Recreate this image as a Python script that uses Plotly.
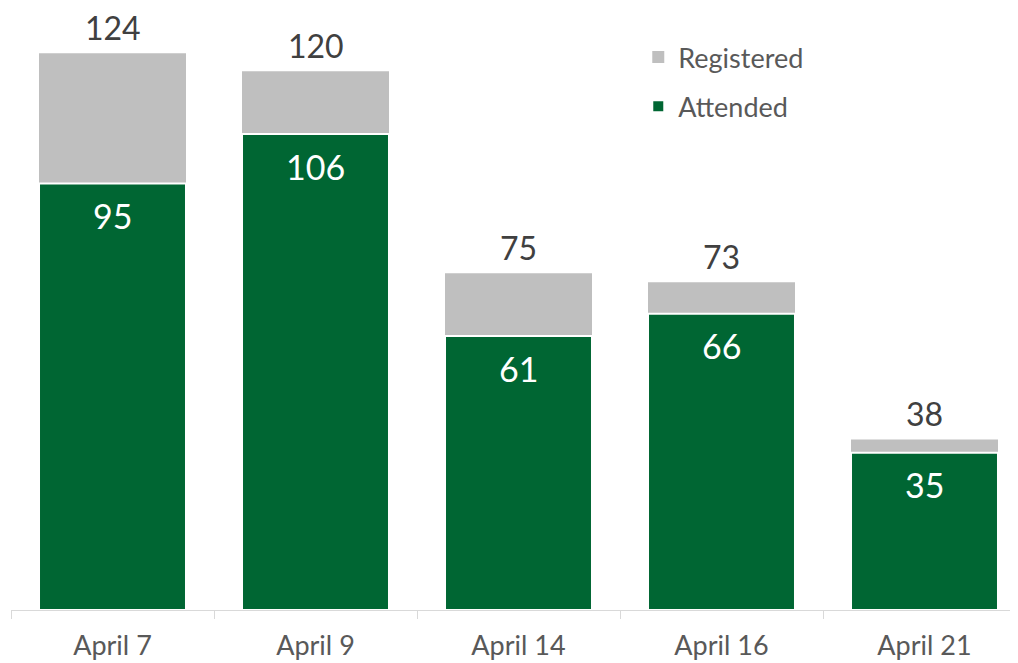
import plotly.graph_objects as go

dates = ["April 7", "April 9", "April 14", "April 16", "April 21"]
registered = [124, 120, 75, 73, 38]
attended = [95, 106, 61, 66, 35]

GREEN = "#006633"
GRAY = "#bfbfbf"
FONT = "Lato"

fig = go.Figure()
fig.add_trace(go.Bar(x=dates, y=registered, name="Registered", legendgroup="r",
                     marker=dict(color=GRAY, line=dict(width=0))))
fig.add_trace(go.Bar(x=dates, y=attended, name="Attended", legendgroup="a",
                     marker=dict(color=GREEN, line=dict(color="white", width=2))))

for d, r, a in zip(dates, registered, attended):
    fig.add_annotation(x=d, y=r, text=str(r), showarrow=False, yshift=5,
                       yanchor="bottom", borderpad=0,
                       font=dict(size=32, color="#404040", family=FONT))
    fig.add_annotation(x=d, y=a, text=str(a), showarrow=False, yshift=-32,
                       font=dict(size=34, color="white", family=FONT))

fig.update_layout(
    width=1018, height=663,
    barmode="overlay", bargap=0.276,
    margin=dict(l=3, r=0, t=12, b=61),
    plot_bgcolor="white", paper_bgcolor="white",
    font=dict(family=FONT, color="#595959"),
    showlegend=True,
    legend=dict(x=0.618, y=0.978, xanchor="left", yanchor="top",
                font=dict(size=27, color="#595959", family=FONT),
                traceorder="grouped", tracegroupgap=11, itemwidth=30,
                bgcolor="rgba(0,0,0,0)"),
    xaxis=dict(range=[-0.5, 4.5], showline=True, linecolor="#d9d9d9", linewidth=1,
               ticks="outside", tickson="boundaries", ticklen=8, tickcolor="#d9d9d9",
               ticklabelstandoff=12,
               tickfont=dict(size=27, color="#595959", family=FONT), showgrid=False),
    yaxis=dict(range=[0, 131.4], visible=False, showgrid=False),
)

fig.write_html("out.html")
